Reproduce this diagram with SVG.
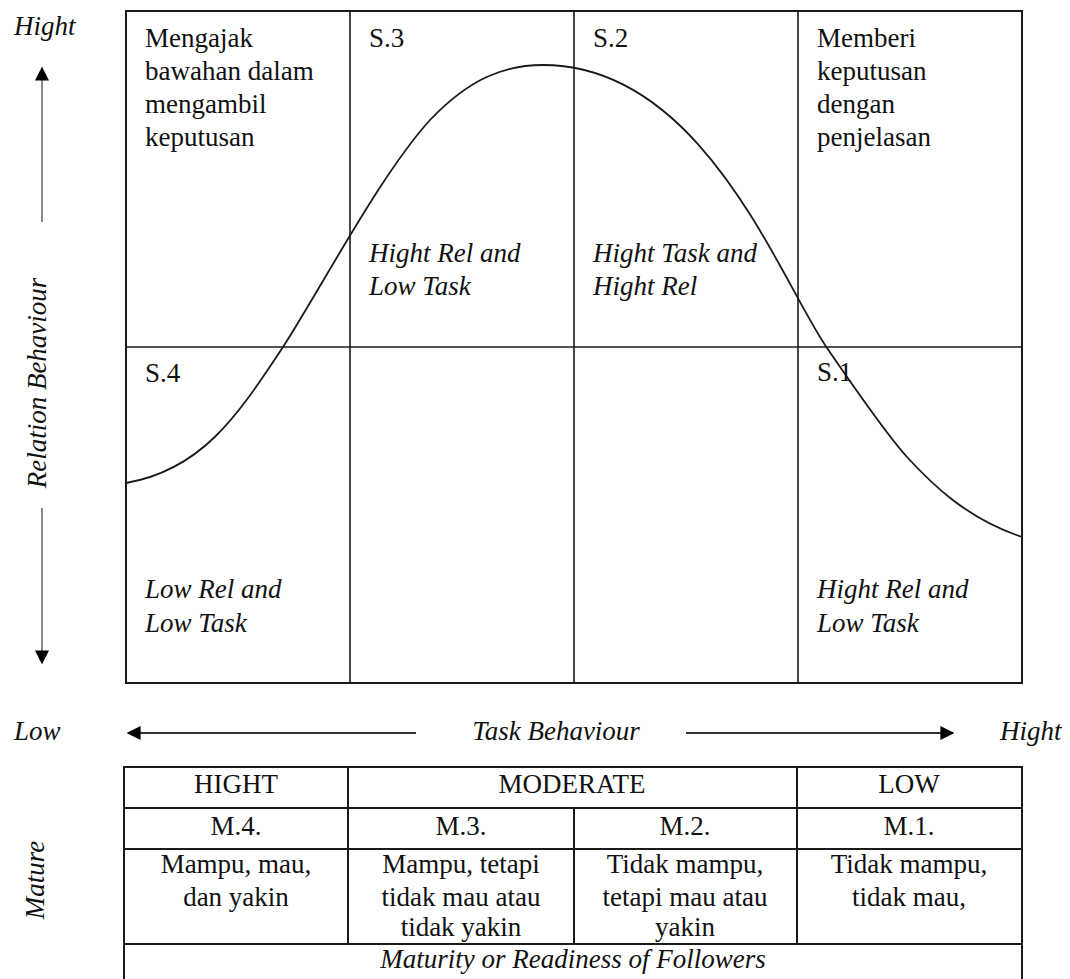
<svg xmlns="http://www.w3.org/2000/svg" width="1070" height="979" viewBox="0 0 1070 979">
<style>
text{font-family:"Liberation Serif","Times New Roman",serif;font-size:27px;fill:#111}
.it{font-style:italic}
.mid{text-anchor:middle}
.grid{fill:none;stroke:#1a1a1a;stroke-width:2}
.thin{fill:none;stroke:#1a1a1a;stroke-width:1.6}
.ax{stroke:#888;stroke-width:2;fill:none}
.axk{stroke:#333;stroke-width:2;fill:none}
.curve{fill:none;stroke:#1a1a1a;stroke-width:1.8}
</style>
<defs>
<marker id="ah" viewBox="0 0 10 10" refX="9" refY="5" markerWidth="14" markerHeight="14" markerUnits="userSpaceOnUse" orient="auto">
<path d="M0,0 L10,5 L0,10 Z" fill="#000"/>
</marker>
</defs>
<rect width="1070" height="979" fill="#fff"/>

<g id="grid">
<rect class="grid" x="126" y="11" width="896" height="672"/>
<line class="thin" x1="350" y1="11" x2="350" y2="683"/>
<line class="thin" x1="574" y1="11" x2="574" y2="683"/>
<line class="thin" x1="798" y1="11" x2="798" y2="683"/>
<line class="thin" x1="126" y1="347" x2="1022" y2="347"/>
</g>

<g id="curve">
<path class="curve" d="M126,483 C200,470 235,420 283,347 C320,290 380,175 430,120 C470,78 505,65 543,65 C703,65 779,278 827,348 C851,383 887,435 907,457 C930,482 965,518 1022,537"/>
</g>

<g id="q-s3">
<text x="145" y="47">Mengajak</text>
<text x="145" y="80">bawahan dalam</text>
<text x="145" y="113">mengambil</text>
<text x="145" y="146">keputusan</text>
<text x="369" y="47">S.3</text>
<text class="it" x="369" y="262">Hight Rel and</text>
<text class="it" x="369" y="295">Low Task</text>
</g>
<g id="q-s2">
<text x="593" y="47">S.2</text>
<text class="it" x="593" y="262">Hight Task and</text>
<text class="it" x="593" y="295">Hight Rel</text>
<text x="817" y="47">Memberi</text>
<text x="817" y="80">keputusan</text>
<text x="817" y="113">dengan</text>
<text x="817" y="146">penjelasan</text>
</g>
<g id="q-s4">
<text x="145" y="382">S.4</text>
<text class="it" x="145" y="598">Low Rel and</text>
<text class="it" x="145" y="632">Low Task</text>
</g>
<g id="q-s1">
<text x="817" y="381">S.1</text>
<text class="it" x="817" y="598">Hight Rel and</text>
<text class="it" x="817" y="632">Low Task</text>
</g>

<g id="axes">
<line class="ax" x1="42" y1="222" x2="42" y2="68" marker-end="url(#ah)"/>
<line class="ax" x1="42" y1="508" x2="42" y2="663" marker-end="url(#ah)"/>
<line class="axk" x1="416" y1="733" x2="128" y2="733" marker-end="url(#ah)"/>
<line class="axk" x1="686" y1="733" x2="953" y2="733" marker-end="url(#ah)"/>
</g>

<g id="axis-labels">
<text class="it" x="14" y="35">Hight</text>
<text class="it mid" transform="translate(46,383) rotate(-90)">Relation Behaviour</text>
<text class="it" x="14" y="740">Low</text>
<text class="it" x="556" y="740" text-anchor="middle">Task Behaviour</text>
<text class="it" x="1000" y="740">Hight</text>
<text class="it mid" transform="translate(44,880) rotate(-90)">Mature</text>
</g>

<g id="table">
<path class="grid" d="M124,985 V767 H1022 V985"/>
<line class="grid" x1="124" y1="808" x2="1022" y2="808"/>
<line class="grid" x1="124" y1="849" x2="1022" y2="849"/>
<line class="grid" x1="124" y1="944" x2="1022" y2="944"/>
<line class="grid" x1="348" y1="767" x2="348" y2="944"/>
<line class="grid" x1="797" y1="767" x2="797" y2="944"/>
<line class="grid" x1="574" y1="808" x2="574" y2="944"/>
<text class="mid" x="236" y="793">HIGHT</text>
<text class="mid" x="572" y="793">MODERATE</text>
<text class="mid" x="909" y="793">LOW</text>
<text class="mid" x="236" y="835">M.4.</text>
<text class="mid" x="461" y="835">M.3.</text>
<text class="mid" x="685" y="835">M.2.</text>
<text class="mid" x="909" y="835">M.1.</text>
<text class="mid" x="236" y="873">Mampu, mau,</text>
<text class="mid" x="236" y="906">dan yakin</text>
<text class="mid" x="461" y="873">Mampu, tetapi</text>
<text class="mid" x="461" y="906">tidak mau atau</text>
<text class="mid" x="461" y="936">tidak yakin</text>
<text class="mid" x="685" y="873">Tidak mampu,</text>
<text class="mid" x="685" y="906">tetapi mau atau</text>
<text class="mid" x="685" y="936">yakin</text>
<text class="mid" x="909" y="873">Tidak mampu,</text>
<text class="mid" x="909" y="906">tidak mau,</text>
<text class="it mid" x="573" y="968">Maturity or Readiness of Followers</text>
</g>
</svg>
